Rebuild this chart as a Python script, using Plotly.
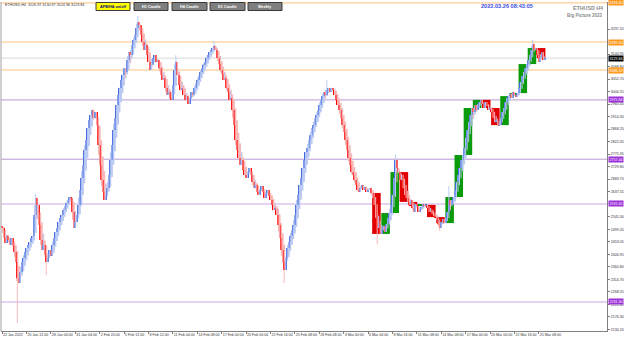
import numpy as np
import pandas as pd
import plotly.graph_objects as go

# ---------------- data ----------------
symbol_title = "ETHUSD H4"
subtitle = "Big Picture 2022"
header_text = "ETHUSD,H4  3126.97 3130.97 3124.96 3129.84"
server_time = "2022.03.26 08:43:05"
button_labels = ["APB/HA on/off", "H1 Candle", "H4 Candle", "D1 Candle", "Weekly"]

first_open = 2510.0
h4_close = [
    2504, 2467, 2449, 2475, 2460, 2441, 2467, 2438, 2415, 2379, 2320, 2302, 2342, 2379, 2393, 2415,
    2430, 2441, 2452, 2467, 2474, 2552, 2614, 2589, 2515, 2460, 2423, 2441, 2404, 2379, 2393, 2423,
    2401, 2441, 2467, 2489, 2504, 2526, 2541, 2552, 2570, 2585, 2596, 2607, 2618, 2614, 2563, 2504,
    2526, 2552, 2589, 2644, 2688, 2736, 2791, 2828, 2872, 2902, 2920, 2939, 2909, 2931, 2883, 2810,
    2736, 2681, 2637, 2607, 2622, 2651, 2699, 2754, 2810, 2865, 2909, 2957, 2994, 3020, 3049, 3068,
    3093, 3079, 3123, 3152, 3141, 3178, 3197, 3215, 3241, 3263, 3252, 3215, 3189, 3160, 3178, 3141,
    3116, 3086, 3105, 3130, 3141, 3116, 3123, 3093, 3068, 3049, 3057, 3020, 2994, 3005, 2983, 2976,
    3031, 3086, 3116, 3068, 3031, 3012, 3020, 2994, 2976, 2990, 2961, 2983, 3005, 2994, 3020, 3035,
    3049, 3064, 3079, 3093, 3105, 3116, 3130, 3141, 3152, 3160, 3167, 3175, 3160, 3130, 3108, 3086,
    3071, 3049, 3057, 3020, 3005, 2976, 2983, 2939, 2883, 2828, 2791, 2762, 2736, 2754, 2718, 2699,
    2688, 2710, 2725, 2699, 2673, 2651, 2662, 2637, 2626, 2644, 2659, 2637, 2614, 2629, 2644, 2622,
    2607, 2589, 2570, 2578, 2552, 2515, 2467, 2423, 2379, 2349, 2393, 2430, 2452, 2474, 2496, 2515,
    2552, 2589, 2626, 2662, 2688, 2725, 2754, 2784, 2799, 2828, 2846, 2872, 2883, 2909, 2920, 2939,
    2957, 2976, 2990, 3005, 2994, 3012, 3020, 3005, 3020, 3012, 2994, 2976, 2957, 2939, 2909, 2883,
    2858, 2828, 2791, 2762, 2736, 2710, 2699, 2681, 2662, 2644, 2637, 2651, 2662, 2644, 2655, 2637,
    2644, 2651, 2633,
    2614, 2589, 2541, 2504, 2518, 2482,
    2496, 2511, 2489, 2518, 2541, 2559,
    2589, 2626, 2688, 2754, 2725, 2710,
    2681, 2699, 2651, 2626, 2614, 2600,
    2589, 2607, 2578, 2563, 2592, 2585,
    2563, 2570, 2581, 2592, 2585, 2589,
    2578, 2563, 2570, 2555, 2548, 2544,
    2533, 2518, 2504, 2526, 2537, 2522,
    2541, 2563, 2607, 2589, 2607, 2618,
    2644, 2673, 2699, 2725, 2754, 2773,
    2799, 2836, 2865, 2894, 2920, 2946,
    2931, 2957, 2939, 2961, 2968, 2976,
    2961, 2946, 2968, 2953, 2939, 2946,
    2931, 2909, 2894, 2902, 2880, 2883,
    2909, 2931, 2946, 2968, 2983, 2990,
    2998, 2983, 3005, 2994, 2987, 3001,
    3020, 3042, 3064, 3079, 3093, 3108,
    3123, 3141, 3160, 3182, 3160, 3167,
    3141, 3116, 3130, 3152, 3123, 3129.84,
]
spike_bar = [10, 22, 29, 89, 114, 139, 185, 213, 246, 258, 287, 293, 348]
spike_price = [2154, 2630, 2330, 3285, 3141, 3193, 2301, 3050, 2444, 2773, 2493, 2658, 3197]

d1_start_bar = 243
d1_bars_per_day = 6

x_tick_bars = [0, 16, 32, 48, 64, 80, 96, 112, 128, 144, 160, 176, 192, 208, 224, 240,
               256, 272, 288, 304, 320, 336, 352]
x_tick_labels = ["22 Jan 2022", "25 Jan 12:00", "28 Jan 04:00", "31 Jan 04:00", "2 Feb 20:00",
                 "5 Feb 12:00", "8 Feb 12:00", "11 Feb 04:00", "14 Feb 08:00", "17 Feb 00:00",
                 "20 Feb 00:00", "22 Feb 16:00", "25 Feb 08:00", "28 Feb 08:00", "3 Mar 00:00",
                 "6 Mar 00:00", "8 Mar 16:00", "11 Mar 08:00", "14 Mar 08:00", "17 Mar 00:00",
                 "20 Mar 00:00", "22 Mar 16:00", "25 Mar 08:00"]

y_tick_values = [3237.20, 3144.95, 3098.80, 3052.70, 3006.55, 2960.45, 2914.30, 2868.20,
                 2822.05, 2775.95, 2729.80, 2683.70, 2637.55, 2545.30, 2499.20, 2453.05,
                 2406.95, 2360.80, 2314.70, 2268.55, 2222.45, 2176.30, 2130.20]

orange_levels = [3333.40, 3189.30, 3086.10]
purple_levels = [2975.84, 2757.44]
lavender_levels = [2592.40, 2231.30]
current_price = 3129.84

y_range = [2124.3, 3336.7]
x_range = [-0.7, 396.7]

# ---------------- derived OHLC ----------------
close = np.array(h4_close, dtype=float)
n = len(close)
idx = np.arange(n)
open_ = np.concatenate([[first_open], close[:-1]])
high = np.maximum(open_, close)
low = np.minimum(open_, close)
for b, p in zip(spike_bar, spike_price):
    high[b] = max(high[b], p)
    low[b] = min(low[b], p)

# Heikin-Ashi (APB/HA overlay)
ha_close = (open_ + high + low + close) / 4.0
ha_open = np.empty(n)
ha_open[0] = (open_[0] + close[0]) / 2.0
for i in range(1, n):
    ha_open[i] = (ha_open[i - 1] + ha_close[i - 1]) / 2.0
ha_hi = np.maximum.reduce([high, ha_open, ha_close])
ha_lo = np.minimum.reduce([low, ha_open, ha_close])

# Daily candles from the H4 data
df = pd.DataFrame(dict(o=open_, h=high, l=low, c=close))
dd = df.iloc[d1_start_bar:].copy()
dd["g"] = np.arange(len(dd)) // d1_bars_per_day
d1 = dd.groupby("g").agg(o=("o", "first"), h=("h", "max"), l=("l", "min"), c=("c", "last"))
d1_x = d1_start_bar + d1.index.values * d1_bars_per_day + (d1_bars_per_day - 1) / 2.0

BLUE = "#4169e1"
RED = "#ff0000"
LBLUE = "#bccbf3"
LRED = "#f9b8b8"
D1_GREEN = "#0b9a0b"
D1_RED = "#e00000"

fig = go.Figure()

# HA light bodies
ha_up = ha_close >= ha_open
ha_base = np.minimum(ha_open, ha_close)
ha_h = np.maximum(np.abs(ha_close - ha_open), 3.0)
fig.add_trace(go.Bar(x=idx, y=ha_h, base=ha_base, width=1.25,
                     marker=dict(color=np.where(ha_up, LBLUE, LRED), line=dict(width=0)),
                     hoverinfo="skip"))

# wicks
def wick_xy(mask):
    xs, ys = [], []
    for i in np.where(mask)[0]:
        xs += [i, i, None]
        ys += [ha_lo[i], ha_hi[i], None]
    return xs, ys

up = close >= open_
for mask, col in [(up, LBLUE), (~up, LRED)]:
    xs, ys = wick_xy(mask)
    fig.add_trace(go.Scatter(x=xs, y=ys, mode="lines", line=dict(color=col, width=1),
                             hoverinfo="skip"))

# D1 boxes
d1_up = d1["c"].values >= d1["o"].values
fig.add_trace(go.Bar(x=d1_x, y=np.maximum(np.abs(d1["c"] - d1["o"]).values, 3.0),
                     base=np.minimum(d1["o"], d1["c"]).values, width=5.6,
                     marker=dict(color=np.where(d1_up, D1_GREEN, D1_RED), line=dict(width=0)),
                     hoverinfo="skip"))

# H4 bodies
fig.add_trace(go.Bar(x=idx, y=np.maximum(np.abs(close - open_), 2.5), base=np.minimum(open_, close),
                     width=0.75,
                     marker=dict(color=np.where(up, BLUE, RED), line=dict(width=0)),
                     hoverinfo="skip"))

# ---------------- layout helpers ----------------
L, R, T, B = 1, 607, 2, 331
W, H = R - L, B - T

def px(xp):
    return (xp - L) / W

def py(yp):
    return (B - yp) / H

shapes = []
annotations = []

def hline(v, color, width):
    shapes.append(dict(type="line", xref="paper", yref="y", x0=0, x1=1, y0=v, y1=v,
                       line=dict(color=color, width=width), layer="below"))

for v in orange_levels:
    hline(v, "#ffc37a", 1)
for v in purple_levels:
    hline(v, "#b79ad3", 1)
for v in lavender_levels:
    hline(v, "#e6d2f3", 2)
hline(current_price, "#d8d8d8", 1)

# left border
shapes.append(dict(type="line", xref="paper", yref="paper", x0=0, x1=0, y0=0, y1=1,
                   line=dict(color="#a0a0a0", width=1)))

def price_tag(v, bg, fg="white"):
    annotations.append(dict(xref="paper", yref="y", x=px(608), y=v, xanchor="left",
                            yanchor="middle", text=f"{v:.2f}", showarrow=False,
                            bgcolor=bg, borderpad=0.6,
                            font=dict(size=3.6, color=fg, family="Liberation Sans")))

for v in orange_levels:
    price_tag(v, "#ff9a1f")
for v in purple_levels:
    price_tag(v, "#9b30d9")
for v in lavender_levels:
    price_tag(v, "#9b30d9")
price_tag(current_price, "#000000")

# buttons
btn_x = [(96, 130), (134, 168), (172, 207), (210, 245), (248, 282)]
for k, (lab, (a, b)) in enumerate(zip(button_labels, btn_x)):
    fill = "#ffff00" if k == 0 else "#7f7f7f"
    fg = "#000080" if k == 0 else "white"
    shapes.append(dict(type="rect", xref="paper", yref="paper", x0=px(a), x1=px(b),
                       y0=py(10.5), y1=py(2.5), fillcolor=fill,
                       line=dict(color="#3a3a3a", width=1), layer="above"))
    annotations.append(dict(xref="paper", yref="paper", x=px((a + b) / 2), y=py(6.5),
                            text=f"<b>{lab}</b>", showarrow=False, xanchor="center",
                            yanchor="middle",
                            font=dict(size=3.8, color=fg, family="Liberation Sans")))

annotations.append(dict(xref="paper", yref="paper", x=px(3), y=py(5.5), text=header_text,
                        showarrow=False, xanchor="left", yanchor="middle",
                        font=dict(size=3.7, color="#333333", family="Liberation Sans")))
annotations.append(dict(xref="paper", yref="paper", x=px(507), y=py(6), text=f"<b>{server_time}</b>",
                        showarrow=False, xanchor="center", yanchor="middle",
                        font=dict(size=5.6, color="#3c4fe6", family="Liberation Sans")))
annotations.append(dict(xref="paper", yref="paper", x=px(605), y=py(7.5), text=f"<b>{symbol_title}</b>",
                        showarrow=False, xanchor="right", yanchor="middle",
                        font=dict(size=5.3, color="#8a8a8a", family="Liberation Sans")))
annotations.append(dict(xref="paper", yref="paper", x=px(605), y=py(15.5), text=f"<b>{subtitle}</b>",
                        showarrow=False, xanchor="right", yanchor="middle",
                        font=dict(size=4.5, color="#8a8a8a", family="Liberation Sans")))

fig.update_layout(
    width=625, height=339,
    margin=dict(l=L, r=625 - R, t=T, b=339 - B, autoexpand=False),
    paper_bgcolor="white", plot_bgcolor="white",
    showlegend=False, barmode="overlay",
    shapes=shapes, annotations=annotations,
    xaxis=dict(range=x_range, tickvals=x_tick_bars, ticktext=x_tick_labels,
               ticks="outside", ticklen=2, tickcolor="#808080", ticklabelposition="outside right",
               tickangle=0, automargin=False,
               tickfont=dict(size=3.6, color="#333333", family="Liberation Sans"),
               showgrid=False, zeroline=False, showline=True, linecolor="#808080", linewidth=1,
               fixedrange=True),
    yaxis=dict(range=y_range, side="right", tickvals=y_tick_values, automargin=False,
               ticktext=[f"{v:.2f}" for v in y_tick_values],
               ticks="outside", ticklen=2, tickcolor="#808080",
               tickfont=dict(size=3.6, color="#333333", family="Liberation Sans"),
               showgrid=False, zeroline=False, showline=True, linecolor="#808080", linewidth=1,
               fixedrange=True),
)

fig.write_html("out.html")
